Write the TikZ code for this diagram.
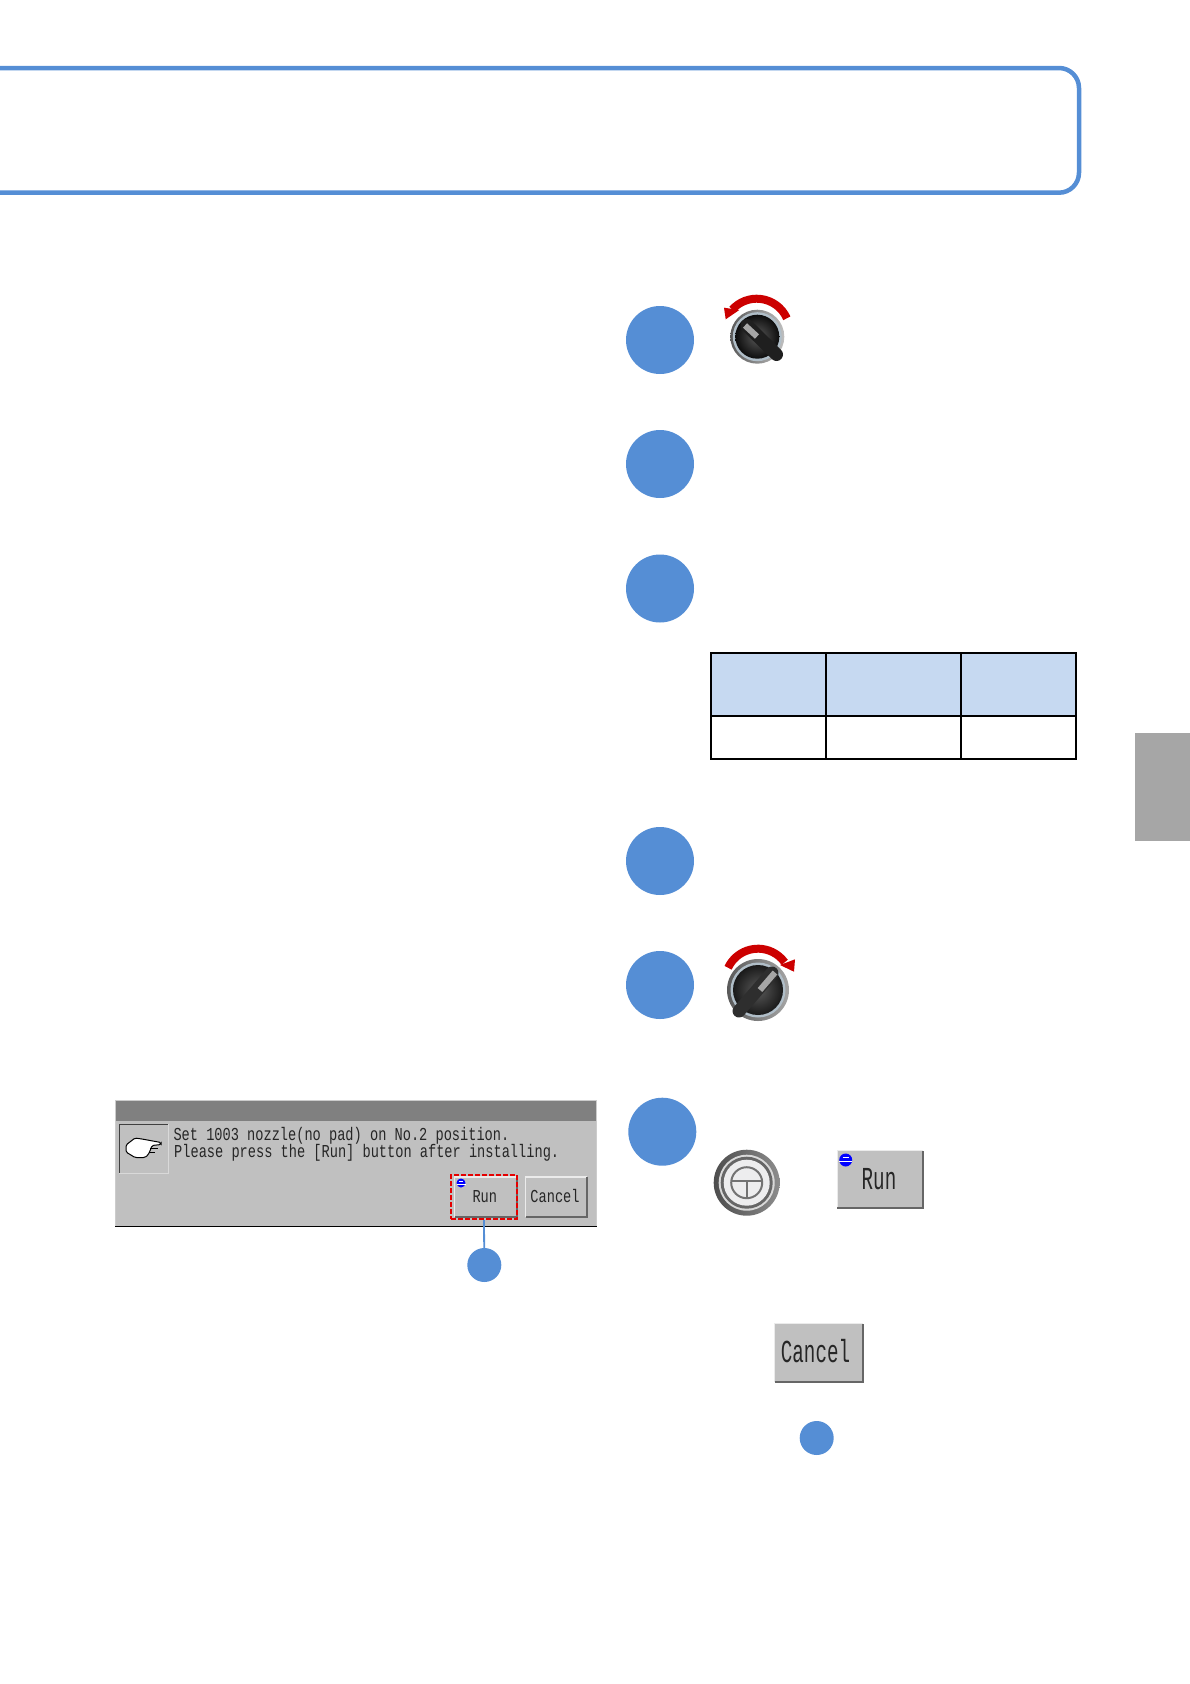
\documentclass[tikz,border=0pt]{standalone}
\usepackage{fontspec}
\usepackage{tikz}
\newfontfamily\panelfont[FakeStretch=0.75]{Liberation Mono}
\newfontfamily\panelbigfont[FakeStretch=0.6]{Liberation Mono}
\newcommand{\smallpanel}{\panelfont\fontsize{18.2}{20}\selectfont}
\newcommand{\bigpanel}{\panelbigfont\fontsize{32}{35}\selectfont}
\definecolor{stepBlue}{RGB}{85, 142, 213}
\definecolor{tableBlue}{RGB}{198, 217, 241}
\definecolor{tabGray}{RGB}{166, 166, 166}
\definecolor{panelGray}{RGB}{192, 192, 192}
\definecolor{barGray}{RGB}{128, 128, 128}
\definecolor{arcRed}{RGB}{204, 0, 0}
\definecolor{rimPale}{RGB}{176, 190, 200}
\tikzset{
  stepdot/.style={circle, fill=stepBlue, minimum size=68, inner sep=0},
  calldot/.style={circle, fill=stepBlue, minimum size=34, inner sep=0},
  panelbtn/.style={rectangle, fill=panelGray, inner sep=0},
  panellabel/.style={text=black!85, inner sep=0},
  turnarc/.style={arcRed, line width=8},
  runmark/.pic={
    \fill[blue] (0,0) circle (1);
    \draw[white, line width=0.12] (-1,0.15) -- (1,0.15);
    \draw[white, line width=0.12] (-0.45,-0.5) -- (0.45,-0.5);
  }
}
\begin{document}
\begin{tikzpicture}[x=1pt, y=-1pt]
  \useasboundingbox (0,0) rectangle (1190,1684);
  % header frame and side tab
  \draw[stepBlue, line width=4.5, rounded corners=20] (-10,68) -- (1079,68) -- (1079,192.7) -- (-10,192.7);
  \fill[tabGray] (1135,733) rectangle (1190,841);
  % steps
  \foreach \n/\x/\y in {1/660/340, 2/660/464, 3/660/588.5, 4/660/861, 5/660/985, 6/662.3/1131.7}
    \node[stepdot] (step\n) at (\x,\y) {};
  % table
  \fill[tableBlue] (711,653.3) rectangle (1076,716);
  \draw[black, line width=2] (711,653.3) rectangle (1076,758.5);
  \draw[black, line width=2] (711,716) -- (1076,716);
  \foreach \x in {826, 961}
    \draw[black, line width=2] (\x,653.3) -- (\x,758.5);
  % selector, turned left
  \shade[left color=black!65, right color=black!25] (757.3,336.7) circle (27);
  \fill[rimPale] (757.3,336.7) circle (24.5);
  \shade[inner color=black!65, outer color=black!95] (757.3,336.7) circle (22);
  \draw[black!88, line width=13, line cap=round] (747,325.5) -- (776.5,354.5);
  \draw[black!35, line width=6] (745,325.5) -- (757,336.5);
  \draw[turnarc] ([shift={(-24:33)}]756.7,331.7) arc[start angle=-24, end angle=-138, radius=33];
  \fill[arcRed] (724,307.7) -- (725.7,319.3) -- (739.3,310) -- cycle;
  % selector, turned right
  \shade[left color=black!65, right color=black!35] (758,990) circle (31);
  \fill[rimPale] (758,990) circle (27.5);
  \shade[inner color=black!65, outer color=black!90] (758,990) circle (25);
  \draw[black!82, line width=13, line cap=round] (772,973) -- (739,1011);
  \draw[black!35, line width=6] (775,972.5) -- (760,990);
  \draw[turnarc] ([shift={(-155:33)}]758,981.7) arc[start angle=-155, end angle=-36, radius=33];
  \fill[arcRed] (795,959.3) -- (794,971.7) -- (780,965) -- cycle;
  % start button
  \shade[left color=black!70, right color=black!45] (746.7,1182.7) circle (33);
  \fill[black!15] (746.7,1182.7) circle (28);
  \fill[black!60] (746.7,1182.7) circle (26);
  \fill[blue!5!black!7] (746.7,1182.7) circle (23);
  \draw[black!55, line width=2] (746.7,1182.7) circle (15.5);
  \draw[black!55, line width=2] (731.2,1180.7) -- (762.2,1180.7);
  \draw[black!55, line width=2] (746.7,1180.7) -- (746.7,1198.2);
  % dialog
  \fill[panelGray] (115.7,1100) rectangle (596,1226.7);
  \fill[barGray] (115.7,1100) rectangle (596,1121);
  \draw[black!20, line width=1] (115.7,1226) -- (115.7,1100) -- (596,1100) -- (596,1226);
  \draw[black, line width=1.6] (115,1226.5) -- (596.5,1226.5);
  \draw[white!85!black, line width=1] (119.3,1173) -- (168,1173) -- (168,1124);
  \draw[black!75, line width=1] (119.3,1173) -- (119.3,1124) -- (168,1124);
  \draw[fill=white, line width=1, rounded corners=1.5] (126,1145) -- (135,1138) -- (142,1139) -- (161,1142.5) -- (161,1144.5) -- (152,1145.5) -- (150,1151) -- (148,1155) -- (145,1157.5) -- (135,1157.5) -- (126,1152) -- cycle;
  \draw[line width=0.8] (150,1148.5) -- (158,1148.5) (149,1152) -- (155,1152);
  \node[anchor=base west, panellabel, font=\smallpanel] (msgA) at (173.3,1140) {Set 1003 nozzle(no pad) on No.2 position.};
  \node[anchor=base west, panellabel, font=\smallpanel] (msgB) at (174,1157) {Please press the [Run] button after installing.};
  % buttons
  \foreach \name/\x/\y/\w/\h/\f/\dx/\dy/\label in {runsmall/485.8/1197/61.7/39.7/\smallpanel/-1/0/Run, cancelsmall/556.5/1197/61/39.7/\smallpanel/-1.5/-1/Cancel, runbig/880/1179.5/85.4/57/\bigpanel/-1/0/Run, cancelbig/818.8/1352.8/87.7/57.7/\bigpanel/-3.3/-2/Cancel} {
    \node[panelbtn, minimum width=\w, minimum height=\h] (\name) at (\x,\y) {};
    \node[panellabel, font=\f] (\name text) at ([shift={(\dx,\dy)}]\name.center) {\label};
    \draw[black!8, line width=1.2] (\name.south west) -- (\name.north west) -- (\name.north east);
    \draw[black!60, line width=1.5] (\name.south west) -- (\name.south east) -- (\name.north east);
  }
  \pic[scale=4.5] at (461,1183) {runmark};
  \pic[scale=6.5] at (845.7,1160) {runmark};
  % call-outs
  \node[draw=red!90!black, line width=2, dash pattern=on 5pt off 2pt, minimum width=66, minimum height=44, inner sep=0] (runframe) at (484,1197.2) {};
  \node[calldot] (callA) at (484.3,1265) {};
  \node[calldot] (callB) at (816.7,1438) {};
  \draw[stepBlue, line width=1.8] (runframe.south) -- (callA);
\end{tikzpicture}
\end{document}
